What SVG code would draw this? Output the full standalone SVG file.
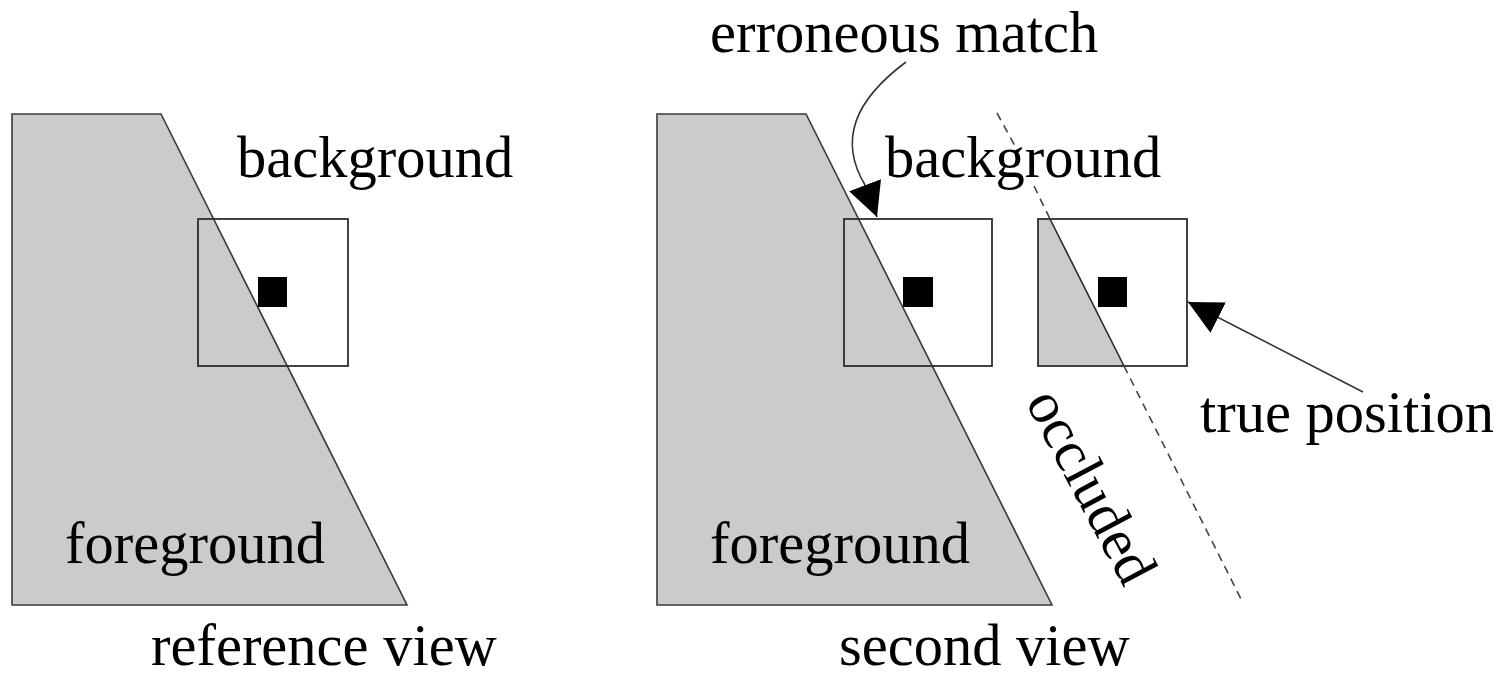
<svg xmlns="http://www.w3.org/2000/svg" width="1507" height="678" viewBox="0 0 1507 678">
  <style>
    .fg { fill: #cbcbcb; stroke: #3a3a3a; stroke-width: 1.6; stroke-linejoin: miter; }
    .edge { fill: none; stroke: #2a2a2a; stroke-width: 1.6; }
    .win { fill: none; stroke: #2e2e2e; stroke-width: 1.8; }
    .px { fill: #000; }
    .dash { fill: none; stroke: #444; stroke-width: 1.6; stroke-dasharray: 8 6; }
    .lead { fill: none; stroke: #333; stroke-width: 1.6; }
    text { font-family: "Liberation Serif", "Times New Roman", serif; font-size: 58.5px; fill: #000; }
  </style>
  <defs>
    <marker id="head" markerUnits="userSpaceOnUse" viewBox="0 -17 34 34" refX="34" refY="0" markerWidth="34" markerHeight="34" orient="auto">
      <path d="M0,-17 L34,0 L0,17 z" fill="#000"/>
    </marker>
  </defs>
  <rect width="1507" height="678" fill="#fff"/>

  <!-- reference view -->
  <g id="reference-view">
    <polygon class="fg" points="12,114 161,114 407,605 12,605"/>
    <rect class="win" x="198" y="219" width="150" height="147"/>
    <rect class="px" x="258" y="277" width="29" height="30"/>
    <text x="237" y="177">background</text>
    <text x="65" y="563">foreground</text>
    <text x="151" y="665">reference view</text>
  </g>

  <!-- second view -->
  <g id="second-view">
    <polygon class="fg" points="657,114 806,114 1052,605 657,605"/>
    <rect class="win" x="844" y="219" width="148" height="147"/>
    <rect class="px" x="903" y="277" width="30" height="30"/>
    <text x="885" y="177">background</text>
    <text x="710" y="563">foreground</text>
    <text x="839" y="665">second view</text>
  </g>

  <!-- window at the true position -->
  <g id="true-window">
    <polygon points="1039,219 1050,219 1124,366 1039,366" fill="#cbcbcb"/>
    <line class="edge" x1="1050" y1="219" x2="1124" y2="366"/>
    <rect class="win" x="1038" y="219" width="149" height="147"/>
    <rect class="px" x="1098" y="277" width="29" height="30"/>
  </g>

  <!-- occlusion boundary -->
  <g id="occlusion">
    <line class="dash" x1="997" y1="113" x2="1015" y2="146"/>
    <line class="dash" x1="1034" y1="186" x2="1050" y2="219"/>
    <line class="dash" x1="1124" y1="366" x2="1243" y2="603"/>
    <text transform="translate(1025,402) rotate(62)">occluded</text>
  </g>

  <!-- labels -->
  <g id="labels">
    <text x="710" y="52">erroneous match</text>
    <text x="1200" y="432">true position</text>
  </g>

  <!-- leader arrows -->
  <g id="connectors">
    <path class="lead" d="M906,62 C855,100 838,140 865,185 L877,217" marker-end="url(#head)"/>
    <path class="lead" d="M1363,392 L1188,302" marker-end="url(#head)"/>
  </g>
</svg>
